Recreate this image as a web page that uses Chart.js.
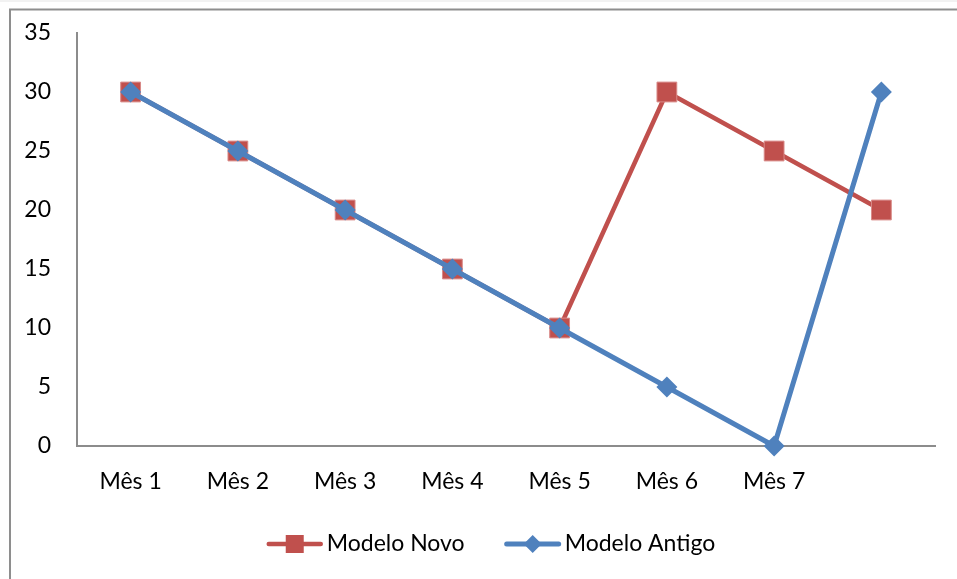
<!DOCTYPE html>
<html>
<head>
<meta charset="utf-8">
<script src="https://cdn.jsdelivr.net/npm/chart.js@4/dist/chart.umd.min.js"></script>
<style>
  html, body { margin: 0; padding: 0; background: #fff; }
  #wrap { width: 957px; height: 579px; position: relative; }
</style>
</head>
<body>
<div id="wrap"><canvas id="c" width="957" height="579"></canvas></div>
<script>
// Monthly values for the two models
const categories = ['Mês 1', 'Mês 2', 'Mês 3', 'Mês 4', 'Mês 5', 'Mês 6', 'Mês 7', ''];
const modeloNovo = [30, 25, 20, 15, 10, 30, 25, 20];
const modeloAntigo = [30, 25, 20, 15, 10, 5, 0, 30];
const seriesNames = ['Modelo Novo', 'Modelo Antigo'];
const yMin = 0, yMax = 35, yStep = 5;

const RED = '#C0504D';
const BLUE = '#4F81BD';
const FONT = 'Lato, "Open Sans", sans-serif';
const FONT_SIZE = 23;

// Outer frame around the chart object
const framePlugin = {
  id: 'frame',
  beforeDraw(chart) {
    const ctx = chart.ctx;
    ctx.save();
    ctx.fillStyle = '#f2f2f2';
    ctx.fillRect(0, 0, chart.width, 2);
    ctx.strokeStyle = '#8e8e8e';
    ctx.lineWidth = 2;
    ctx.strokeRect(10, 9.5, chart.width + 20, chart.height + 20);
    ctx.restore();
  }
};

// Legend with line + marker symbols, laid out under the axis labels
const lineLegend = {
  id: 'lineLegend',
  afterDraw(chart) {
    const ctx = chart.ctx;
    const o = chart.options.plugins.lineLegend;
    ctx.save();
    ctx.font = o.fontSize + 'px ' + FONT;
    ctx.textBaseline = 'middle';
    ctx.fillStyle = '#000';
    const items = chart.data.datasets.slice().sort((a, b) => a.legendIndex - b.legendIndex);
    const symW = o.symbolWidth, gap = o.textGap, itemGap = o.itemGap;
    let total = 0;
    items.forEach((ds, i) => {
      total += symW + gap + ctx.measureText(ds.label).width + (i < items.length - 1 ? itemGap : 0);
    });
    let x = o.centerX - total / 2;
    const y = o.y;
    items.forEach(ds => {
      ctx.strokeStyle = ds.borderColor;
      ctx.lineWidth = ds.borderWidth;
      ctx.lineCap = 'round';
      ctx.beginPath();
      ctx.moveTo(x + 2, y);
      ctx.lineTo(x + symW - 2, y);
      ctx.stroke();
      const cx = x + symW / 2;
      const r = o.markerSize / 2;
      ctx.fillStyle = ds.pointBackgroundColor;
      ctx.beginPath();
      if (ds.pointStyle === 'rect') {
        ctx.rect(cx - r, y - r, 2 * r, 2 * r);
      } else {
        ctx.moveTo(cx, y - r);
        ctx.lineTo(cx + r, y);
        ctx.lineTo(cx, y + r);
        ctx.lineTo(cx - r, y);
        ctx.closePath();
      }
      ctx.fill();
      ctx.fillStyle = '#000';
      ctx.fillText(ds.label, x + symW + gap, y);
      x += symW + gap + ctx.measureText(ds.label).width + itemGap;
    });
    ctx.restore();
  }
};

function build() {
  Chart.defaults.font.family = FONT;
  Chart.defaults.font.size = FONT_SIZE;
  Chart.defaults.color = '#000';

  new Chart(document.getElementById('c'), {
    type: 'line',
    data: {
      labels: categories,
      datasets: [
        {
          label: seriesNames[0],
          legendIndex: 0,
          data: modeloNovo,
          borderColor: RED,
          backgroundColor: RED,
          borderWidth: 4.5,
          pointStyle: 'rect',
          pointRadius: 14,
          pointHoverRadius: 14,
          pointBackgroundColor: RED,
          pointBorderColor: '#d98a88',
          pointBorderWidth: 1,
          borderJoinStyle: 'round',
          borderCapStyle: 'round',
          tension: 0,
          clip: false,
          order: 1
        },
        {
          label: seriesNames[1],
          legendIndex: 1,
          data: modeloAntigo,
          borderColor: BLUE,
          backgroundColor: BLUE,
          borderWidth: 5,
          pointStyle: 'rectRot',
          pointRadius: 10.5,
          pointHoverRadius: 10.5,
          pointBackgroundColor: BLUE,
          pointBorderColor: BLUE,
          pointBorderWidth: 0,
          borderJoinStyle: 'round',
          borderCapStyle: 'round',
          tension: 0,
          clip: false,
          order: 0
        }
      ]
    },
    options: {
      responsive: false,
      animation: false,
      devicePixelRatio: 1,
      layout: { padding: { left: 0, top: 33, right: 22, bottom: 73 } },
      plugins: {
        legend: { display: false },
        tooltip: { enabled: false },
        lineLegend: { centerX: 491, y: 544, fontSize: FONT_SIZE, symbolWidth: 56, textGap: 4, itemGap: 40, markerSize: 18 }
      },
      scales: {
        x: {
          offset: true,
          grid: { display: false, drawTicks: false },
          border: { display: true, color: '#8c8c8c', width: 2 },
          ticks: { padding: 22, maxRotation: 0, autoSkip: false, font: { size: FONT_SIZE } },
          afterFit(scale) { scale.height = 60; }
        },
        y: {
          min: yMin,
          max: yMax,
          grid: { display: false, drawTicks: false },
          border: { display: true, color: '#8c8c8c', width: 2 },
          ticks: { stepSize: yStep, padding: 26, font: { size: FONT_SIZE } },
          afterFit(scale) {
            scale.width = 77;
            // the outer layout padding already leaves room for the end labels
            scale.paddingTop = 0;
            scale.paddingBottom = 0;
          }
        }
      }
    },
    plugins: [framePlugin, lineLegend]
  });
}

if (document.fonts && document.fonts.load) {
  document.fonts.load(FONT_SIZE + 'px Lato').then(build, build);
} else {
  build();
}
</script>
</body>
</html>
